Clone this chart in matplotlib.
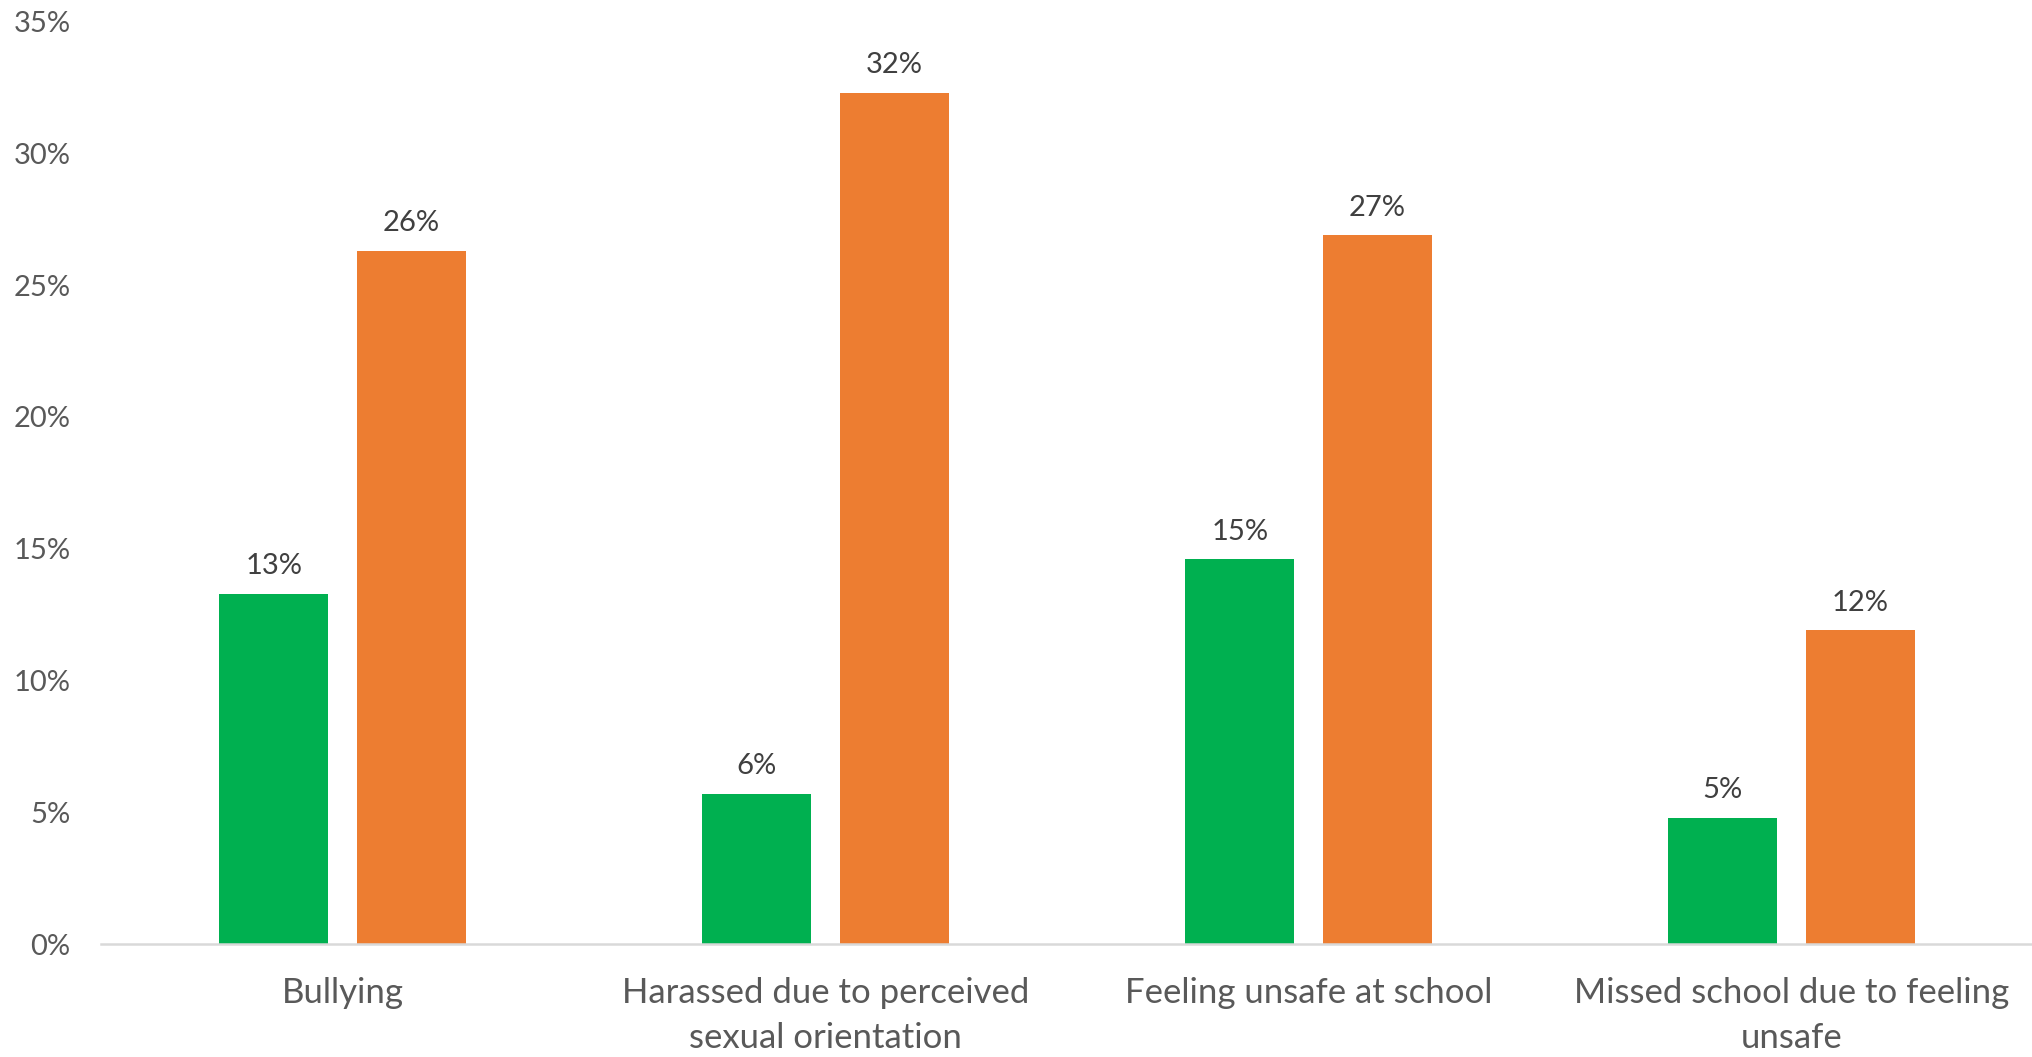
import numpy as np
import matplotlib
matplotlib.use("Agg")
import matplotlib.pyplot as plt
from matplotlib.ticker import FuncFormatter

plt.rcParams['font.family'] = ['Lato', 'DejaVu Sans']

categories = [
    "Bullying",
    "Harassed due to perceived\nsexual orientation",
    "Feeling unsafe at school",
    "Missed school due to feeling\nunsafe",
]
green_values = [13.3, 5.7, 14.6, 4.8]
orange_values = [26.3, 32.3, 26.9, 11.9]
y_ticks = [0, 5, 10, 15, 20, 25, 30, 35]

GREEN = "#00B050"
ORANGE = "#ED7D31"

fig = plt.figure(figsize=(20.33, 10.57), dpi=100)
ax = fig.add_axes([0.0497, 0.1069, 0.9503, 0.8726])

x = np.arange(len(categories))
width = 0.2255
offset = 0.1423

bars_g = ax.bar(x - offset, green_values, width, color=GREEN)
bars_o = ax.bar(x + offset, orange_values, width, color=ORANGE)

# value labels above each bar
for bars, vals in ((bars_g, green_values), (bars_o, orange_values)):
    for b, v in zip(bars, vals):
        ax.annotate(f"{v:.0f}%", (b.get_x() + b.get_width() / 2, v),
                    xytext=(0, 14), textcoords="offset points",
                    ha="center", va="baseline", fontsize=21, color="#404040")

ax.set_xlim(-0.5, len(categories) - 0.5)
ax.set_ylim(0, 35)
ax.set_yticks(y_ticks)
ax.yaxis.set_major_formatter(FuncFormatter(lambda v, p: f"{v:.0f}%"))
ax.set_xticks(x)
ax.set_xticklabels(categories, fontsize=25, color="#595959", linespacing=1.48)
ax.tick_params(axis="y", length=0, pad=22, labelsize=21, labelcolor="#595959")
ax.tick_params(axis="x", length=0, pad=24)

for s in ("top", "right", "left"):
    ax.spines[s].set_visible(False)
ax.spines["bottom"].set_color("#D9D9D9")
ax.spines["bottom"].set_linewidth(1.8)

fig.savefig("out.png", dpi=100)
